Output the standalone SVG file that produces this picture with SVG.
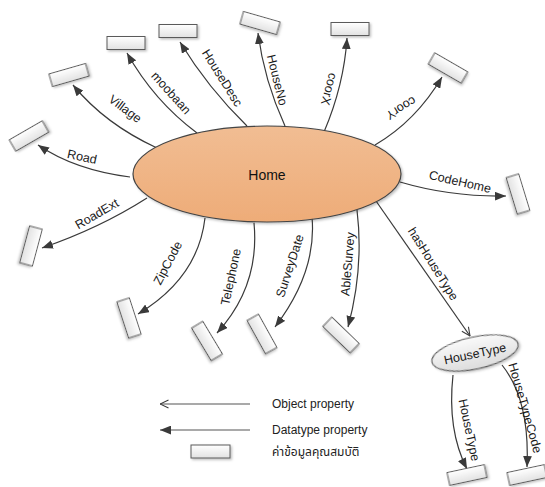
<svg xmlns="http://www.w3.org/2000/svg" width="545" height="487" viewBox="0 0 545 487">
  <defs>
    <linearGradient id="gHome" x1="0" y1="0" x2="0" y2="1">
      <stop offset="0" stop-color="#f1bd93"/>
      <stop offset="1" stop-color="#eeac78"/>
    </linearGradient>
    <linearGradient id="gVal" x1="0" y1="0" x2="0" y2="1">
      <stop offset="0" stop-color="#ffffff"/>
      <stop offset="1" stop-color="#e2e2e2"/>
    </linearGradient>
    <linearGradient id="gCls" x1="0" y1="0" x2="0" y2="1">
      <stop offset="0" stop-color="#fafafa"/>
      <stop offset="1" stop-color="#dcdcdc"/>
    </linearGradient>
    <filter id="shadow" x="-20%" y="-20%" width="150%" height="160%">
      <feDropShadow dx="1.5" dy="1.5" stdDeviation="1.2" flood-color="#000" flood-opacity="0.25"/>
    </filter>
    <marker id="dt" viewBox="0 0 10 8" refX="10" refY="4" markerWidth="11" markerHeight="9" orient="auto" markerUnits="userSpaceOnUse">
      <path d="M0,0 L10,4 L0,8 z" fill="#3a3a3a"/>
    </marker>
    <marker id="op" viewBox="0 0 10 10" refX="9.5" refY="5" markerWidth="10" markerHeight="10" orient="auto" markerUnits="userSpaceOnUse">
      <path d="M1,1 L9.5,5 L1,9" fill="none" stroke="#3a3a3a" stroke-width="1.1"/>
    </marker>
  </defs>
  <style>
    .edge { fill: none; stroke: #3a3a3a; stroke-width: 1.2; }
    .dp { marker-end: url(#dt); }
    .obj { marker-end: url(#op); }
    .val { fill: url(#gVal); stroke: #5a5a5a; stroke-width: 1; filter: url(#shadow); }
    .lbl { font-family: "Liberation Sans", Arial, sans-serif; font-size: 12.5px; fill: #1a1a1a; text-anchor: middle; dominant-baseline: central; }
    .legend { font-family: "Liberation Sans", Arial, "Noto Sans Thai", "DejaVu Sans", sans-serif; font-size: 12px; fill: #222; }
    .legline { fill: none; stroke: #555; stroke-width: 1.2; }
  </style>

  <!-- property connectors with their labels -->
  <g id="connectors">
    <path class="edge dp" d="M130,177 Q75,170 38,145"/>
    <path class="edge dp" d="M157,148 Q105,124 73,85"/>
    <path class="edge dp" d="M197,133 Q154,101 127,53"/>
    <path class="edge dp" d="M247,126 Q208,88 180,42"/>
    <path class="edge dp" d="M285,126 Q264,80 258,33"/>
    <path class="edge dp" d="M324,132 Q344,85 347,38"/>
    <path class="edge dp" d="M375,145 Q416,121 442,77"/>
    <path class="edge dp" d="M400,182 Q451,197 506,196"/>
    <path class="edge dp" d="M147,198 Q100,228 42,248"/>
    <path class="edge dp" d="M205,218 Q198,278 138,314"/>
    <path class="edge dp" d="M254,223 Q260,286 217,333"/>
    <path class="edge dp" d="M312,217 Q317,272 275,327"/>
    <path class="edge dp" d="M357,210 Q364,268 348,327"/>
    <path class="edge obj" d="M376,201 L470,336"/>
    <path class="edge dp" d="M453,375 Q447,430 467,469"/>
    <path class="edge dp" d="M502,365 Q530,400 527,467"/>

    <text class="lbl" transform="translate(82,157) rotate(12)">Road</text>
    <text class="lbl" transform="translate(125,109) rotate(37)">Village</text>
    <text class="lbl" transform="translate(171,93) rotate(48)">moobaan</text>
    <text class="lbl" transform="translate(222,78) rotate(58)">HouseDesc</text>
    <text class="lbl" transform="translate(277,80) rotate(76)">HouseNo</text>
    <text class="lbl" transform="translate(329,89) rotate(105)">coorX</text>
    <text class="lbl" transform="translate(401,108) rotate(148)">coorY</text>
    <text class="lbl" transform="translate(460,182) rotate(13)">CodeHome</text>
    <text class="lbl" transform="translate(97,214) rotate(-30)">RoadExt</text>
    <text class="lbl" transform="translate(168,263) rotate(-62)">ZipCode</text>
    <text class="lbl" transform="translate(231,277) rotate(-78)">Telephone</text>
    <text class="lbl" transform="translate(290,266) rotate(-72)">SurveyDate</text>
    <text class="lbl" transform="translate(348,264) rotate(-85)">AbleSurvey</text>
    <text class="lbl" transform="translate(433,264) rotate(58)">hasHouseType</text>
    <text class="lbl" transform="translate(469,430) rotate(78)">HouseType</text>
    <text class="lbl" transform="translate(525,408) rotate(74)" font-size="12px">HouseTypeCode</text>
  </g>

  <!-- class nodes -->
  <g id="home">
    <ellipse cx="267" cy="174" rx="134" ry="48" fill="url(#gHome)" stroke="#444" stroke-width="1.2" filter="url(#shadow)"/>
    <text x="267" y="175" font-family="Liberation Sans, Arial, sans-serif" font-size="14" fill="#111" text-anchor="middle" dominant-baseline="central">Home</text>
  </g>
  <g id="housetype">
    <ellipse cx="0" cy="0" rx="44" ry="16" transform="translate(475,353) rotate(-12)" fill="url(#gCls)" stroke="#555" stroke-width="1.1" filter="url(#shadow)"/>
    <text class="lbl" transform="translate(475,354) rotate(-12)">HouseType</text>
  </g>

  <!-- literal value nodes -->
  <g id="val-road"><rect class="val" x="-19" y="-6.5" width="38" height="13" transform="translate(29,136) rotate(-30)"/></g>
  <g id="val-village"><rect class="val" x="-19" y="-6.5" width="38" height="13" transform="translate(69,75) rotate(-16)"/></g>
  <g id="val-moobaan"><rect class="val" x="-19" y="-6.5" width="38" height="13" transform="translate(126,43)"/></g>
  <g id="val-housedesc"><rect class="val" x="-19" y="-6.5" width="38" height="13" transform="translate(178,31)"/></g>
  <g id="val-houseno"><rect class="val" x="-19" y="-6.5" width="38" height="13" transform="translate(260,23) rotate(16)"/></g>
  <g id="val-coorx"><rect class="val" x="-19" y="-6.5" width="38" height="13" transform="translate(350,29)"/></g>
  <g id="val-coory"><rect class="val" x="-19" y="-6.5" width="38" height="13" transform="translate(448,68) rotate(30)"/></g>
  <g id="val-codehome"><rect class="val" x="-19" y="-6.5" width="38" height="13" transform="translate(518,194) rotate(73)"/></g>
  <g id="val-roadext"><rect class="val" x="-19" y="-6.5" width="38" height="13" transform="translate(31,246) rotate(105)"/></g>
  <g id="val-zipcode"><rect class="val" x="-19" y="-6.5" width="38" height="13" transform="translate(129,318) rotate(72)"/></g>
  <g id="val-telephone"><rect class="val" x="-19" y="-6.5" width="38" height="13" transform="translate(207,341) rotate(59)"/></g>
  <g id="val-surveydate"><rect class="val" x="-19" y="-6.5" width="38" height="13" transform="translate(262,334) rotate(61)"/></g>
  <g id="val-ablesurvey"><rect class="val" x="-19" y="-6.5" width="38" height="13" transform="translate(341,335) rotate(44)"/></g>
  <g id="val-housetype"><rect class="val" x="-19" y="-6.5" width="38" height="13" transform="translate(467,475) rotate(-12)"/></g>
  <g id="val-housetypecode"><rect class="val" x="-19" y="-6.5" width="38" height="13" transform="translate(527,475) rotate(-12)"/></g>

  <!-- legend -->
  <g id="legend">
    <path class="legline obj" d="M250,404 L160,404"/>
    <text class="legend" x="272" y="408">Object property</text>
    <path class="legline dp" d="M250,430 L160,430"/>
    <text class="legend" x="272" y="434">Datatype property</text>
    <rect class="val" x="191" y="445" width="39" height="13"/>
    <text class="legend" x="272" y="456">ค่าข้อมูลคุณสมบัติ</text>
  </g>
</svg>
